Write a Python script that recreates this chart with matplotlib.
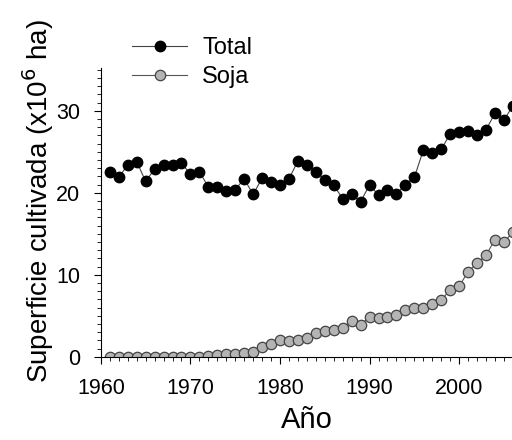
import numpy as np
import matplotlib.pyplot as plt
from matplotlib.ticker import MultipleLocator

plt.rcParams['font.family'] = ['Liberation Sans', 'DejaVu Sans']

years = list(range(1961, 2007))
total = [22.5, 21.9, 23.4, 23.8, 21.4, 22.9, 23.4, 23.4, 23.6, 22.3,
         22.6, 20.7, 20.7, 20.2, 20.4, 21.7, 19.8, 21.8, 21.3, 20.9,
         21.7, 23.9, 23.4, 22.6, 21.6, 20.9, 19.3, 19.8, 18.9, 21.0,
         19.7, 20.4, 19.9, 21.0, 21.9, 25.2, 24.9, 25.3, 27.2, 27.4,
         27.6, 27.0, 27.7, 29.7, 28.9, 30.6]
soja = [0.0, 0.0, 0.0, 0.0, 0.0, 0.0, 0.0, 0.0, 0.0, 0.0,
        0.0, 0.05, 0.2, 0.4, 0.4, 0.45, 0.65, 1.2, 1.6, 2.05,
        1.9, 2.0, 2.35, 2.9, 3.2, 3.3, 3.5, 4.4, 3.9, 4.9,
        4.7, 4.9, 5.1, 5.7, 5.9, 5.9, 6.4, 6.9, 8.2, 8.6,
        10.4, 11.4, 12.4, 14.3, 14.0, 15.2]

fig = plt.figure(figsize=(5.12, 4.4), dpi=100)
ax = fig.add_axes([0.197, 0.189, 0.803, 0.656])

ax.plot(years, total, '-o', color='#444444', lw=0.8, ms=7.5,
        mfc='black', mec='black', label='Total', clip_on=True)
ax.plot(years, soja, '-o', color='#555555', lw=0.8, ms=7.5,
        mfc='#b4b4b4', mec='#444444', mew=0.9, label='Soja', clip_on=True)

ax.set_xlim(1960, 2005.9)
ax.set_ylim(0, 35.2)
ax.xaxis.set_major_locator(MultipleLocator(10))
ax.xaxis.set_minor_locator(MultipleLocator(1))
ax.yaxis.set_major_locator(MultipleLocator(10))
ax.yaxis.set_minor_locator(MultipleLocator(1))
ax.tick_params(which='major', direction='out', length=5, width=0.8, labelsize=15.5, pad=10)
ax.tick_params(which='minor', direction='out', length=3, width=0.6)
ax.spines['top'].set_visible(False)
ax.spines['right'].set_visible(False)

ax.set_xlabel('Año', fontsize=21, labelpad=5)
ax.set_ylabel('Superficie cultivada (x10$^6$ ha)', fontsize=20)
ax.yaxis.set_label_coords(-0.11, 0.54)

leg = ax.legend(loc='upper left', bbox_to_anchor=(0.258, 0.915), bbox_transform=fig.transFigure,
                frameon=False, fontsize=17, handlelength=2.33, handletextpad=0.64,
                labelspacing=0.3, borderaxespad=0, borderpad=0)

fig.savefig('out.png', dpi=100)
